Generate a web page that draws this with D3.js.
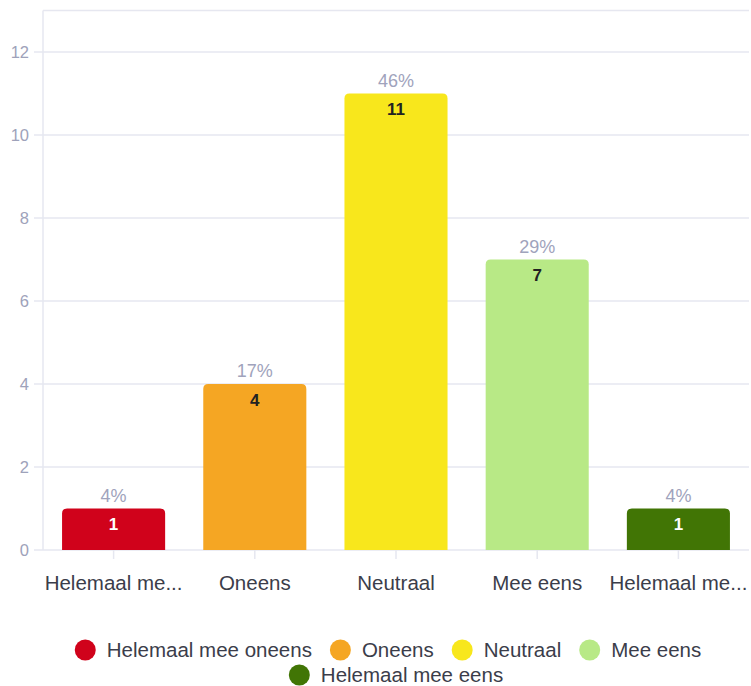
<!DOCTYPE html>
<html>
<head>
<meta charset="utf-8">
<script src="https://cdn.jsdelivr.net/npm/d3@7"></script>
<style>
  html, body { margin: 0; padding: 0; background: #fff; }
  svg { display: block; font-family: "Liberation Sans", Arial, sans-serif; }
</style>
</head>
<body>
<svg id="chart" width="751" height="686"></svg>
<script>
// Survey answers and counts
const categories = ["Helemaal mee oneens", "Oneens", "Neutraal", "Mee eens", "Helemaal mee eens"];
const axisLabels = ["Helemaal me...", "Oneens", "Neutraal", "Mee eens", "Helemaal me..."];
const counts = [1, 4, 11, 7, 1];
const percents = ["4%", "17%", "46%", "29%", "4%"];
const colors = ["#d0021b", "#f5a623", "#f8e71c", "#b8e986", "#417505"];
const valueTextColors = ["#ffffff", "#222222", "#222222", "#222222", "#ffffff"];
const yTicks = [0, 2, 4, 6, 8, 10, 12];

const svg = d3.select("#chart");
const plotLeft = 43, plotRight = 749, plotTop = 10.5, plotBottom = 550;

const x = d3.scaleBand().domain(categories).range([plotLeft, plotRight]).paddingInner(0.27).paddingOuter(0.135);
const y = d3.scaleLinear().domain([0, 13]).range([plotBottom, plotTop]);

const gridColor = "#e6e7f0";
const textColor = "#3b3d4a";

// horizontal gridlines with short stubs left of the axis
svg.append("g").selectAll("line").data(yTicks).join("line")
  .attr("x1", plotLeft - 9).attr("x2", plotRight)
  .attr("y1", d => y(d)).attr("y2", d => y(d))
  .attr("stroke", gridColor).attr("stroke-width", 1.5);

// top border of the plot area
svg.append("line").attr("x1", plotLeft).attr("x2", plotRight)
  .attr("y1", y(13)).attr("y2", y(13))
  .attr("stroke", gridColor).attr("stroke-width", 1.5);

// left axis line
svg.append("line").attr("x1", plotLeft).attr("x2", plotLeft)
  .attr("y1", y(13)).attr("y2", y(0))
  .attr("stroke", gridColor).attr("stroke-width", 1.5);

// y tick labels
svg.append("g").selectAll("text").data(yTicks).join("text")
  .attr("x", 29).attr("y", d => y(d)).attr("dy", "0.35em")
  .attr("text-anchor", "end").attr("font-size", 16.5).attr("fill", "#9ea2ba")
  .text(d => d);

// x ticks
svg.append("g").selectAll("line").data(categories).join("line")
  .attr("x1", d => x(d) + x.bandwidth() / 2).attr("x2", d => x(d) + x.bandwidth() / 2)
  .attr("y1", y(0)).attr("y2", y(0) + 9)
  .attr("stroke", gridColor).attr("stroke-width", 1.5);

// x labels
svg.append("g").selectAll("text").data(categories).join("text")
  .attr("x", d => x(d) + x.bandwidth() / 2).attr("y", 590)
  .attr("text-anchor", "middle").attr("font-size", 20.5).attr("fill", textColor)
  .text((d, i) => axisLabels[i]);

// bars with rounded top corners
const r = 5;
function barPath(x0, y0, w, h) {
  return `M${x0},${y0 + h}V${y0 + r}Q${x0},${y0} ${x0 + r},${y0}H${x0 + w - r}Q${x0 + w},${y0} ${x0 + w},${y0 + r}V${y0 + h}Z`;
}
const data = categories.map((c, i) => ({ c, v: counts[i], p: percents[i], col: colors[i], tc: valueTextColors[i] }));

svg.append("g").selectAll("path").data(data).join("path")
  .attr("d", d => barPath(x(d.c), y(d.v), x.bandwidth(), y(0) - y(d.v)))
  .attr("fill", d => d.col);

// percentage labels above bars
svg.append("g").selectAll("text").data(data).join("text")
  .attr("x", d => x(d.c) + x.bandwidth() / 2).attr("y", d => y(d.v) - 7)
  .attr("text-anchor", "middle").attr("font-size", 18).attr("fill", "#a0a3bc")
  .text(d => d.p);

// count labels inside bars
svg.append("g").selectAll("text").data(data).join("text")
  .attr("x", d => x(d.c) + x.bandwidth() / 2).attr("y", d => y(d.v) + 16).attr("dy", "0.35em")
  .attr("text-anchor", "middle").attr("font-size", 17).attr("font-weight", "bold")
  .attr("fill", d => d.tc)
  .text(d => d.v);

// legend: two centered rows
const legendRows = [[0, 1, 2, 3], [4]];
const legendY = [650, 675];
const legendCenter = [388, 396];
const dotR = 10.5, labelOffset = 21.5, itemGap = 18;
const legend = svg.append("g").attr("font-size", 20.5).attr("fill", textColor);
legendRows.forEach((row, ri) => {
  const g = legend.append("g");
  let cx = 0;
  row.forEach(i => {
    const item = g.append("g").attr("transform", `translate(${cx},0)`);
    item.append("circle").attr("cx", dotR).attr("cy", 0).attr("r", dotR).attr("fill", colors[i]);
    const t = item.append("text").attr("x", dotR + labelOffset).attr("y", 0).attr("dy", "0.35em")
      .attr("fill", textColor).text(categories[i]);
    cx += dotR + labelOffset + t.node().getComputedTextLength() + itemGap;
  });
  const total = cx - itemGap;
  g.attr("transform", `translate(${legendCenter[ri] - total / 2},${legendY[ri]})`);
});
</script>
</body>
</html>
